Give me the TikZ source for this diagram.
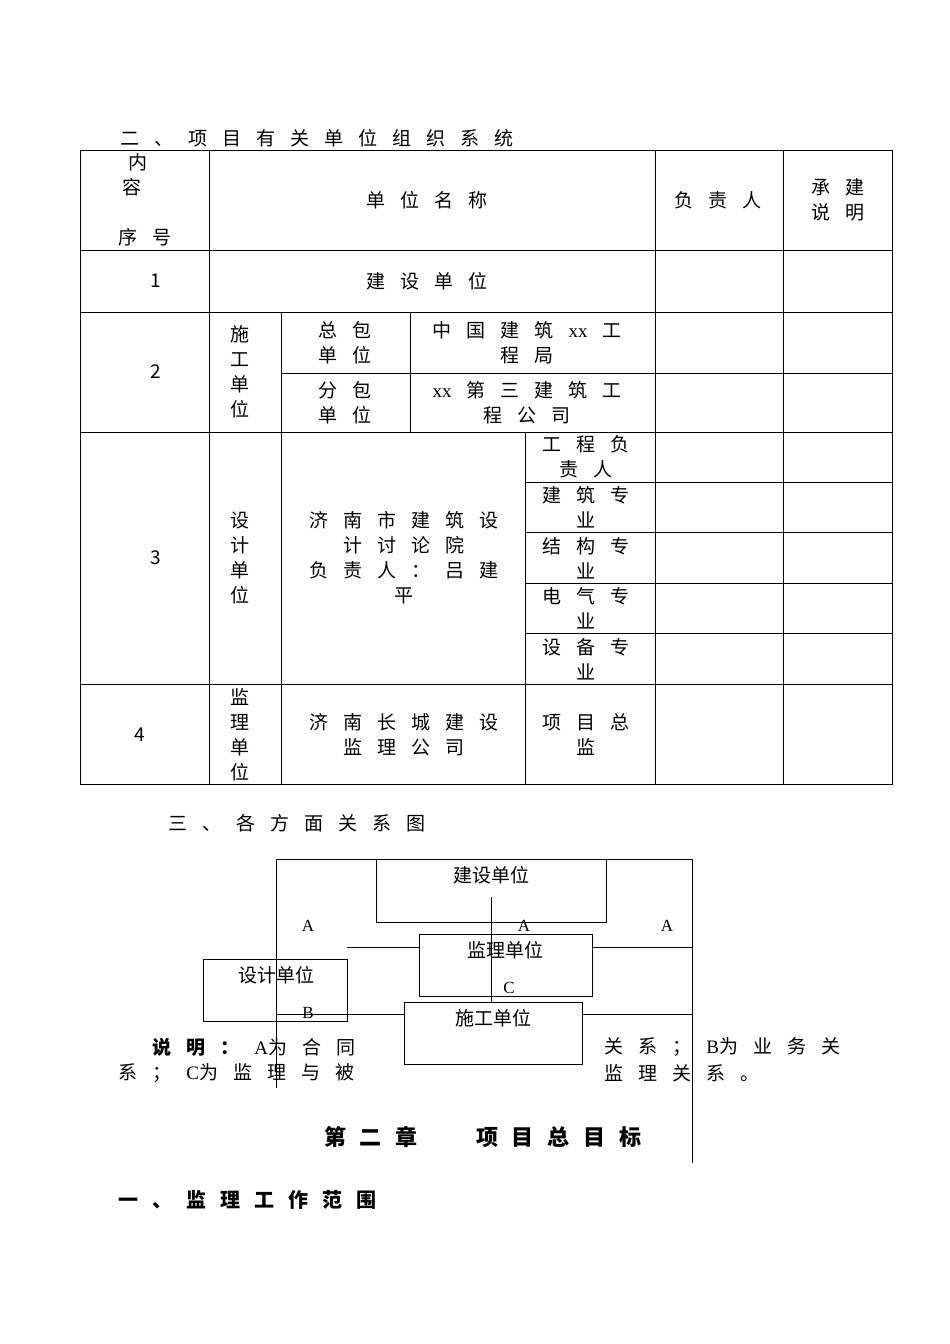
\documentclass[tikz,border=0pt]{standalone}
\usepackage{fontspec}
\setmainfont{Liberation Serif}
\newfontfamily\cjk{Noto Sans CJK SC}
\newcommand\cjkf{\cjk\fontsize{19}{25}\selectfont\spaceskip 15pt\relax}
\newcommand\cjkh{\cjk\bfseries\fontsize{22}{26}\selectfont\spaceskip 14pt\relax}
\newcommand\cjks{\cjk\bfseries\fontsize{20}{24}\selectfont\spaceskip 14pt\relax}
\begin{document}
\begin{tikzpicture}[x=1pt,y=-1pt,line width=0.9pt,
  t/.style={font=\cjkf,align=center,inner sep=0pt},
  lt/.style={font=\fontsize{17}{20}\selectfont,inner sep=0pt},
  bx/.style={draw,line width=1.1pt}]
\useasboundingbox (0,0) rectangle (950,1344);
% table
\draw (80,150) rectangle (892,784);
\foreach \y in {250,312,432,684} \draw (80,\y) -- (892,\y);
\draw (281,373) -- (892,373);
\foreach \y in {482,532,583,633} \draw (525,\y) -- (892,\y);
\draw (209,150) -- (209,784);
\draw (281,312) -- (281,784);
\draw (410,312) -- (410,432);
\draw (525,432) -- (525,784);
\draw (655,150) -- (655,784);
\draw (783,150) -- (783,784);
\node[t,anchor=west] (h0) at (120,138) {二 、 项 目 有 关 单 位 组 织 系 统};
\node[t] (c1) at (138,162) {内};
\node[t] (c2) at (132,187) {容};
\node[t] (c3) at (145,237) {序 号};
\node[t] (c4) at (427,200) {单 位 名 称};
\node[t] (c5) at (718,200) {负 责 人};
\node[t] (c6) at (838,200) {承 建\\说 明};
\node[t] (r1) at (156,281) {1};
\node[t] (r1b) at (427,281) {建 设 单 位};
\node[t] (r2) at (156,372) {2};
\node[t] (r2b) at (240,372) {施\\工\\单\\位};
\node[t] (r2c) at (345,343) {总 包\\单 位};
\node[t] (r2d) at (527,343) {中 国 建 筑 {\rmfamily xx} 工\\程 局};
\node[t] (r2e) at (345,403) {分 包\\单 位};
\node[t] (r2f) at (527,403) {{\rmfamily xx} 第 三 建 筑 工\\程 公 司};
\node[t] (r3) at (156,558) {3};
\node[t] (r3b) at (240,558) {设\\计\\单\\位};
\node[t] (r3c) at (404,558) {济 南 市 建 筑 设\\计 讨 论 院\\负 责 人 ： 吕 建\\平};
\node[t] (s1) at (586,457) {工 程 负\\责 人};
\node[t] (s2) at (586,507) {建 筑 专\\业};
\node[t] (s3) at (586,558) {结 构 专\\业};
\node[t] (s4) at (586,608) {电 气 专\\业};
\node[t] (s5) at (586,659) {设 备 专\\业};
\node[t] (r4) at (140,735) {4};
\node[t] (r4b) at (240,735) {监\\理\\单\\位};
\node[t] (r4c) at (404,735) {济 南 长 城 建 设\\监 理 公 司};
\node[t] (r4d) at (586,735) {项 目 总\\监};
\node[t,anchor=west] (h1) at (168,823) {三 、 各 方 面 关 系 图};
% diagram
\coordinate (tl) at (276,859); \coordinate (tr) at (692,859);
\coordinate (bl) at (276,1088); \coordinate (br) at (692,1163);
\draw (bl) -- (tl) -- (tr) -- (br);
\node[bx,minimum width=230,minimum height=63,anchor=north west] (js) at (376,859) {};
\node[t,anchor=north] at (491,866) {建设单位};
\node[bx,minimum width=173,minimum height=62,anchor=north west] (jl) at (419,934) {};
\node[t,anchor=north] at (505,941) {监理单位};
\node[bx,minimum width=144,minimum height=62,anchor=north west] (sj) at (203,959) {};
\node[t,anchor=north] at (276,966) {设计单位};
\node[bx,minimum width=178,minimum height=62,anchor=north west] (sg) at (404,1002) {};
\node[t,anchor=north] at (493,1009) {施工单位};
\draw (491,897) -- (491,1002);
\draw (347,947) -- (419,947) (592,947) -- (692,947);
\draw (276,1014) -- (404,1014) (582,1014) -- (692,1014);
\node[lt] at (308,926) {A};
\node[lt] at (524,926) {A};
\node[lt] at (667,926) {A};
\node[lt] at (509,988) {C};
\node[lt] at (308,1013) {B};
% text
\node[t,anchor=west] (d1) at (152,1047) {\textbf{说 明 ：} {\rmfamily A}为 合 同};
\node[t,anchor=west] (d2) at (118,1073) {系 ； {\rmfamily C}为 监 理 与 被};
\node[t,anchor=west] (d3) at (604,1047) {关 系 ； {\rmfamily B}为 业 务 关};
\node[t,anchor=west] (d4) at (604,1073) {监 理 关 系 。};
\node[t,font=\cjkh] (ch) at (483,1137) {第 二 章 \qquad 项 目 总 目 标};
\node[t,anchor=west,font=\cjks] (s) at (118,1200) {一 、 监 理 工 作 范 围};
\end{tikzpicture}
\end{document}
